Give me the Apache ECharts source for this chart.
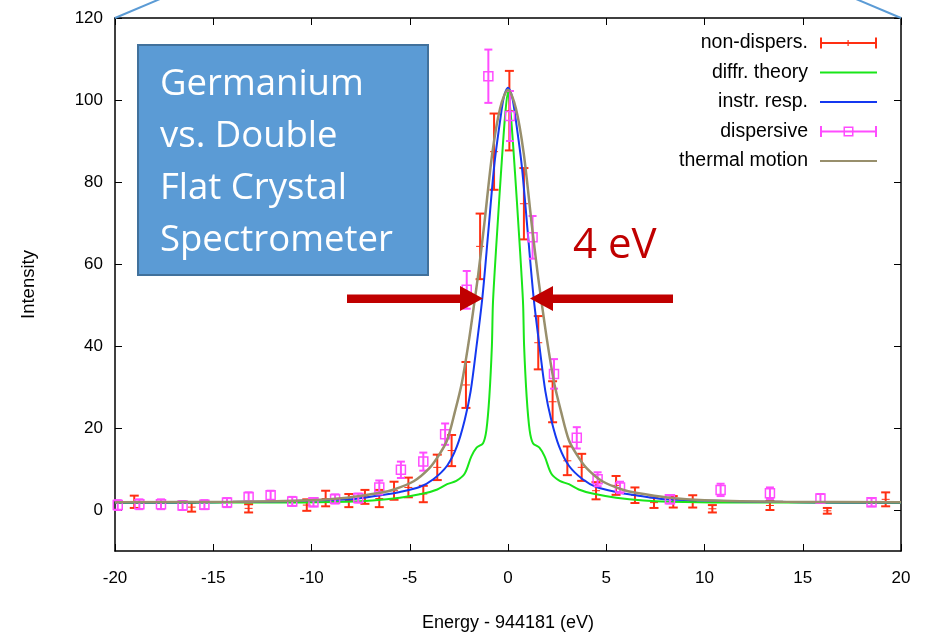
<!DOCTYPE html>
<html><head><meta charset="utf-8">
<script src="https://cdn.jsdelivr.net/npm/echarts@6/dist/echarts.min.js"></script>
<style>html,body{margin:0;padding:0;background:#fff}#c{width:927px;height:637px}</style>
</head><body><div id="c"></div><script>
// ---- tick labels ----
const xTicks = [-20,-15,-10,-5,0,5,10,15,20];
const yTicks = [0,20,40,60,80,100,120];
const seriesNames = ['non-dispers.','diffr. theory','instr. resp.','dispersive','thermal motion'];

// ---- non-dispersive measurement (x, y, error) ----
const nonDispX = [-19.02,-16.1,-13.2,-10.24,-9.28,-8.1,-7.28,-6.55,-5.8,-5.07,-4.31,-3.6,-2.87,-2.14,-1.42,-0.71,0.07,0.81,1.54,2.27,3.02,3.75,4.48,5.5,6.46,7.43,8.41,9.4,10.4,13.33,16.25,19.22];
const nonDispY = [2.0,0.7,0.4,1.2,2.8,2.3,3.2,2.8,4.7,5.5,3.9,10.4,14.5,30.5,64.3,87.4,97.4,74.7,40.8,26.4,12.0,10.4,4.7,6.0,3.6,1.8,2.0,2.1,0.3,1.1,-0.2,2.6];
const nonDispErr = [1.5,1.1,1.0,1.4,1.9,1.6,1.7,2.1,2.2,2.4,2.0,3.1,3.8,5.6,8.0,9.3,9.7,8.7,6.5,5.0,3.5,3.3,2.1,2.3,1.9,1.3,1.4,1.5,0.9,1.1,0.7,1.7];

// ---- dispersive measurement (x, y, error) ----
const dispX = [-19.86,-18.76,-17.66,-16.56,-15.45,-14.3,-13.2,-12.08,-10.98,-9.9,-8.8,-7.62,-6.55,-5.45,-4.31,-3.2,-2.1,-1.0,0.1,1.25,2.34,3.5,4.56,5.7,8.24,10.82,13.33,15.9,18.5];
const dispY = [1.2,1.4,1.4,1.1,1.3,1.8,3.2,3.6,2.1,1.9,2.7,2.9,5.5,9.8,11.8,18.5,53.7,105.8,96.1,66.5,33.2,17.6,7.5,5.5,2.6,4.9,4.1,2.8,1.9];
const dispErr = [1.2,1.2,1.2,1.1,1.1,1.1,1.1,1.1,1.1,1.0,1.1,1.1,1.7,2.0,2.2,2.6,4.6,6.5,6.1,5.2,3.6,2.6,1.7,1.4,1.0,1.5,1.4,1.1,1.0];

// ---- diffraction theory curve ----
const theoryX = [-20,-14,-11,-8.2,-6.9,-5.5,-4.3,-3.6,-3.1,-2.63,-2.2,-1.87,-1.6,-1.27,-1.1,-0.95,-0.82,-0.77,-0.68,-0.55,-0.36,-0.15,0,0.15,0.36,0.55,0.68,0.77,0.82,0.95,1.1,1.27,1.6,1.87,2.2,2.63,3.1,3.6,4.3,5.5,6.9,8.2,11,14,20];
const theoryY = [1.7,1.8,1.8,2.0,2.3,3.0,4.0,5.0,6.3,7.1,8.9,13,15.2,16.3,19.5,27.6,40,50,58,68,82,96,102,96,82,68,58,50,40,27.6,19.5,16.3,15.2,13,8.9,7.1,6.3,5.0,4.0,3.0,2.3,2.0,1.8,1.8,1.7];

// ---- instrument response curve ----
const instrX = [-20,-15,-12,-10,-8,-6.5,-5.5,-4.5,-3.8,-3.1,-2.6,-2.2,-1.9,-1.6,-1.3,-1.0,-0.7,-0.4,-0.2,0,0.2,0.4,0.7,1.0,1.3,1.6,1.9,2.2,2.6,3.1,3.8,4.5,5.5,6.5,8,10,12,15,20];
const instrY = [1.8,1.9,2.1,2.3,2.6,3.6,4.4,5.6,7.5,10.8,15.5,22,29,40,52,68,84,95,101,103,101,95,84,68,52,40,29,22,15.5,10.8,7.5,5.6,4.4,3.6,2.6,2.3,2.1,1.9,1.8];

// ---- thermal motion curve ----
const thermalX = [-20,-14,-10,-8.2,-6.5,-5.8,-4.8,-4.0,-3.5,-3.1,-2.7,-2.35,-2.0,-1.7,-1.5,-1.2,-0.8,-0.4,0,0.4,0.8,1.2,1.5,1.7,2.0,2.35,2.7,3.1,3.5,4.0,4.8,5.8,6.5,8.2,10,14,20];
const thermalY = [1.9,2.0,2.4,3.0,4.2,5.0,7.0,10.2,13.5,17,24,31,41,51,58,70,87,98,102.5,98,87,70,58,51,41,31,24,17,13.5,10.2,7.0,5.0,4.2,3.0,2.4,2.0,1.9];

const RED = '#ff2f12', GREEN = '#19e619', BLUE = '#1438f0', MAG = '#ff4cff', THERM = '#988f6c';
const DARKRED = '#c00000';
const FONT = '"Liberation Sans", Arial, sans-serif';

const zip2 = (a, b) => a.map((v, i) => [v, b[i]]);
const zip3 = (a, b, c) => a.map((v, i) => [v, b[i], c[i]]);

function renderNonDisp(params, api) {
  const x = api.value(0), y = api.value(1), e = api.value(2);
  const c = api.coord([x, y]), t = api.coord([x, y + e]), b = api.coord([x, y - e]);
  const st = {stroke: RED, lineWidth: 2};
  return {type: 'group', children: [
    {type: 'line', shape: {x1: c[0], y1: t[1], x2: c[0], y2: b[1]}, style: st},
    {type: 'line', shape: {x1: c[0] - 4.5, y1: t[1], x2: c[0] + 4.5, y2: t[1]}, style: st},
    {type: 'line', shape: {x1: c[0] - 4.5, y1: b[1], x2: c[0] + 4.5, y2: b[1]}, style: st},
    {type: 'line', shape: {x1: c[0] - 4, y1: c[1], x2: c[0] + 4, y2: c[1]}, style: {stroke: RED, lineWidth: 1}}
  ]};
}
function renderDisp(params, api) {
  const x = api.value(0), y = api.value(1), e = api.value(2);
  const c = api.coord([x, y]), t = api.coord([x, y + e]), b = api.coord([x, y - e]);
  const st = {stroke: MAG, lineWidth: 2};
  return {type: 'group', children: [
    {type: 'line', shape: {x1: c[0], y1: t[1], x2: c[0], y2: b[1]}, style: st},
    {type: 'line', shape: {x1: c[0] - 4, y1: t[1], x2: c[0] + 4, y2: t[1]}, style: st},
    {type: 'line', shape: {x1: c[0] - 4, y1: b[1], x2: c[0] + 4, y2: b[1]}, style: st},
    {type: 'rect', shape: {x: c[0] - 4.5, y: c[1] - 4.5, width: 9, height: 9}, style: {stroke: MAG, lineWidth: 1.5, fill: null}}
  ]};
}

const lineIcon = 'path://M0 0h0.01v0.01h-0.01z M0 11h0.01v-0.01h-0.01z M0 4.5h57v2h-57z';
const nonDispIcon = 'path://M0 0h2v11h-2z M55 0h2v11h-2z M0 4.5h57v2h-57z M27.5 2.5h1.2v6h-1.2z';
const dispIcon = 'path://M0 0h2v11h-2z M55 0h2v11h-2z M0 4.5h57v2h-57z M23.5 0.5h10v10h-10z M25 2v7h7v-7z';

const chart = echarts.init(document.getElementById('c'), null, {renderer: 'canvas'});
const axisCommon = {
  axisLine: {show: true, onZero: false, lineStyle: {color: '#000', width: 1.5}},
  splitLine: {show: false},
  axisTick: {show: true, inside: true, length: 7, lineStyle: {color: '#000', width: 1}},
};
const lineSeries = (name, xs, ys, color, width, z) => ({
  name, type: 'line', data: zip2(xs, ys), showSymbol: false, smooth: 0.3,
  lineStyle: {color, width}, itemStyle: {color, borderWidth: 0}, z
});
chart.setOption({
  animation: false,
  backgroundColor: '#fff',
  grid: {left: 115, right: 26, top: 18, bottom: 86, containLabel: false},
  xAxis: [
    Object.assign({}, axisCommon, {type: 'value', min: -20, max: 20, interval: 5, position: 'bottom',
      name: 'Energy - 944181 (eV)', nameLocation: 'middle', nameGap: 63,
      nameTextStyle: {fontSize: 18, fontFamily: FONT, color: '#000'},
      axisLabel: {fontSize: 17, fontFamily: FONT, color: '#000', margin: 18.5}}),
    Object.assign({}, axisCommon, {type: 'value', min: -20, max: 20, interval: 5, position: 'top',
      axisLabel: {show: false}})
  ],
  yAxis: [
    Object.assign({}, axisCommon, {type: 'value', min: -10, max: 120, position: 'left',
      name: 'Intensity', nameLocation: 'middle', nameGap: 77, nameRotate: 90,
      nameTextStyle: {fontSize: 18.5, fontFamily: FONT, color: '#000'},
      axisTick: Object.assign({}, axisCommon.axisTick, {customValues: yTicks}),
      axisLabel: {fontSize: 17, fontFamily: FONT, color: '#000', margin: 12, customValues: yTicks}}),
    Object.assign({}, axisCommon, {type: 'value', min: -10, max: 120, position: 'right',
      axisTick: Object.assign({}, axisCommon.axisTick, {customValues: yTicks}),
      axisLabel: {show: false, customValues: yTicks}})
  ],
  legend: {
    orient: 'vertical', align: 'right', right: 50, top: 32, padding: 0,
    itemWidth: 57, itemHeight: 11, itemGap: 7.5, selectedMode: false,
    textStyle: {fontSize: 19.5, fontFamily: FONT, color: '#000', lineHeight: 22, padding: [0, 7, 0, 0]},
    itemStyle: {borderWidth: 0},
    data: [
      {name: seriesNames[0], icon: nonDispIcon},
      {name: seriesNames[1], icon: lineIcon},
      {name: seriesNames[2], icon: lineIcon},
      {name: seriesNames[3], icon: dispIcon},
      {name: seriesNames[4], icon: lineIcon}
    ]
  },
  series: [
    {name: seriesNames[0], type: 'custom', renderItem: renderNonDisp, data: zip3(nonDispX, nonDispY, nonDispErr),
      encode: {x: 0, y: 1}, itemStyle: {color: RED}, z: 2},
    lineSeries(seriesNames[1], theoryX, theoryY, GREEN, 2, 3),
    lineSeries(seriesNames[2], instrX, instrY, BLUE, 2, 4),
    {name: seriesNames[3], type: 'custom', renderItem: renderDisp, data: zip3(dispX, dispY, dispErr),
      encode: {x: 0, y: 1}, itemStyle: {color: MAG}, z: 5},
    lineSeries(seriesNames[4], thermalX, thermalY, THERM, 2.5, 6)
  ],
  graphic: [
    {type: 'line', shape: {x1: 115, y1: 18, x2: 160, y2: -1}, style: {stroke: '#5b9bd5', lineWidth: 2}, z: 10},
    {type: 'line', shape: {x1: 856, y1: -1, x2: 901, y2: 18}, style: {stroke: '#5b9bd5', lineWidth: 2}, z: 10},
    {type: 'rect', shape: {x: 138, y: 45, width: 290, height: 230}, style: {fill: '#5b9bd5', stroke: '#41719c', lineWidth: 2}, z: 10},
    {type: 'text', x: 160, y: 59, style: {text: 'Germanium\nvs. Double\nFlat Crystal\nSpectrometer', fill: '#fff',
      font: '36.5px "Open Sans", sans-serif', lineHeight: 52, verticalAlign: 'top'}, z: 11},
    {type: 'text', x: 573, y: 246, style: {text: '4 eV', fill: DARKRED, font: '42px "Open Sans", sans-serif', verticalAlign: 'middle'}, z: 11},
    {type: 'polygon', shape: {points: [[347,294.5],[460,294.5],[460,286],[483,298.5],[460,311],[460,303],[347,303]]}, style: {fill: DARKRED}, z: 11},
    {type: 'polygon', shape: {points: [[673,294.5],[553,294.5],[553,286],[530,298.5],[553,311],[553,303],[673,303]]}, style: {fill: DARKRED}, z: 11}
  ]
});
</script></body></html>
